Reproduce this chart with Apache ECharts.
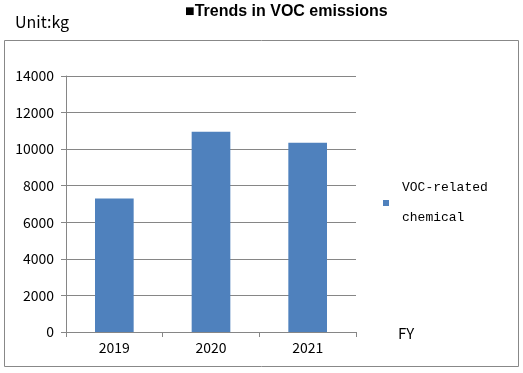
<!DOCTYPE html>
<html><head><meta charset="utf-8">
<script src="https://cdn.jsdelivr.net/npm/echarts@6/dist/echarts.min.js"></script>
<style>html,body{margin:0;padding:0;background:#fff}#c{width:523px;height:373px}</style>
</head><body><div id="c"></div>
<script>
const categories = ['2019', '2020', '2021'];
const seriesName = 'VOC-related\nchemical';
const values = [7300, 10950, 10350];
const yTicks = [0, 2000, 4000, 6000, 8000, 10000, 12000, 14000];
const titleText = '■Trends in VOC emissions';
const unitText = 'Unit:kg';
const xAxisName = 'FY';

const chart = echarts.init(document.getElementById('c'));
const axisGray = '#868686';
chart.setOption({
  animation: false,
  backgroundColor: '#fff',
  grid: { left: 66, right: 167, top: 76, bottom: 41 },
  graphic: [
    { type: 'rect', shape: { x: 4.5, y: 40.5, width: 514, height: 326 }, style: { fill: 'none', stroke: '#888', lineWidth: 1 }, z: -1 },
    { type: 'text', left: 185, top: 4, style: { text: titleText, font: 'bold 16px "Liberation Sans", Arial, sans-serif', fill: '#000' } },
    { type: 'text', left: 15, top: 14, style: { text: unitText, font: '16px "Noto Sans CJK JP", sans-serif', fill: '#000' } },
    { type: 'text', left: 398, top: 326, style: { text: xAxisName, font: '15px "Noto Sans CJK JP", sans-serif', fill: '#000' } }
  ],
  legend: {
    show: true,
    left: 378, top: 168,
    orient: 'vertical',
    itemWidth: 6, itemHeight: 6, itemGap: 4,
    icon: 'rect',
    textStyle: { fontFamily: '"Liberation Mono", "DejaVu Sans Mono", monospace', fontSize: 13, lineHeight: 30, color: '#000', padding: [0, 0, 0, 8] },
    data: [seriesName]
  },
  xAxis: {
    type: 'category', data: categories,
    axisLine: { lineStyle: { color: axisGray } },
    axisTick: { show: true, length: 5, inside: false, lineStyle: { color: axisGray } },
    axisLabel: { color: '#000', fontSize: 14, fontFamily: '"Noto Sans CJK JP", sans-serif', margin: 9 }
  },
  yAxis: {
    type: 'value', min: 0, max: 14000, interval: 2000,
    axisLine: { show: true, lineStyle: { color: axisGray } },
    axisTick: { show: true, length: 5, lineStyle: { color: axisGray } },
    splitLine: { show: true, lineStyle: { color: axisGray, width: 1 } },
    axisLabel: { color: '#000', fontSize: 14, fontFamily: '"Noto Sans CJK JP", sans-serif', margin: 12,
      formatter: v => yTicks.includes(v) ? String(v) : '' }
  },
  series: [{
    name: seriesName, type: 'bar', data: values, barWidth: '40%',
    itemStyle: { color: '#4f81bd' }
  }]
});
</script></body></html>
